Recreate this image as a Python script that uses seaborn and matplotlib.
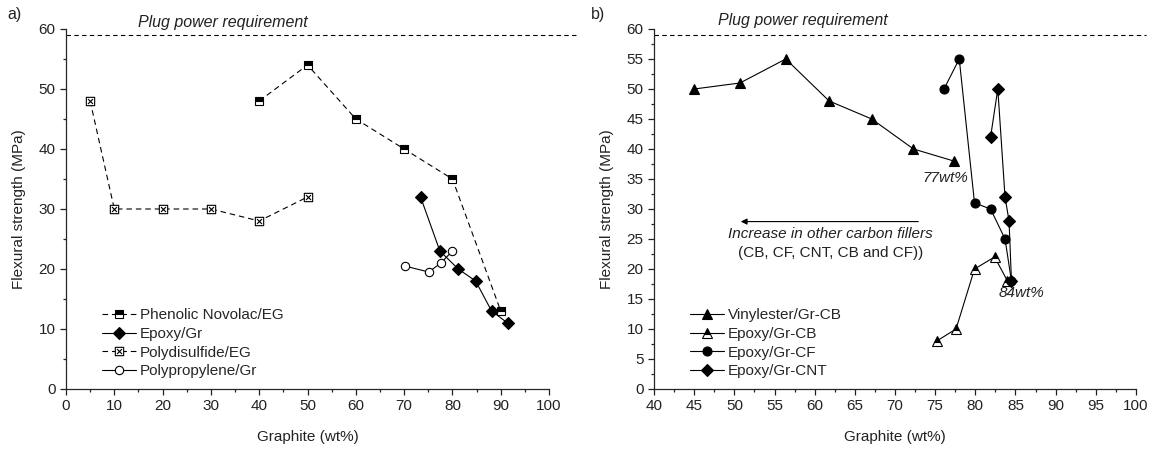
import numpy as np
import pandas as pd
import seaborn as sns
import matplotlib
matplotlib.use("Agg")
import matplotlib.pyplot as plt
from matplotlib.path import Path

# ---- panel a) data ----
phenolic_x = [40, 50, 60, 70, 80, 90]
phenolic_y = [48, 54, 45, 40, 35, 13]
epoxy_gr_x = [73.4, 77.4, 81.2, 84.8, 88.1, 91.4]
epoxy_gr_y = [32, 23, 20, 18, 13, 11]
polydis_x = [5, 10, 20, 30, 40, 50]
polydis_y = [48, 30, 30, 30, 28, 32]
polyprop_x = [70.1, 75.1, 77.6, 80.0]
polyprop_y = [20.5, 19.5, 21, 23]

# ---- panel b) data ----
vinyl_x = [45, 50.7, 56.4, 61.8, 67.1, 72.3, 77.3]
vinyl_y = [50, 51, 55, 48, 45, 40, 38]
ep_cb_x = [75.2, 77.6, 79.9, 82.4, 84.0]
ep_cb_y = [8, 10, 20, 22, 18]
ep_cf_x = [76.1, 78.0, 79.9, 81.9, 83.7, 84.5]
ep_cf_y = [50, 55, 31, 30, 25, 18]
ep_cnt_x = [81.9, 82.8, 83.7, 84.2, 84.5]
ep_cnt_y = [42, 50, 32, 28, 18]

plug_req = 59

sns.set_style('ticks')
plt.rcParams['font.family'] = ['Liberation Sans', 'DejaVu Sans']
plt.rcParams['axes.linewidth'] = 0.9
plt.rcParams['xtick.major.width'] = 0.9
plt.rcParams['ytick.major.width'] = 0.9
plt.rcParams['xtick.minor.width'] = 0.9
plt.rcParams['ytick.minor.width'] = 0.9

# square with a cross inside (for Polydisulfide/EG)
boxx = Path([(-1, -1), (1, -1), (1, 1), (-1, 1), (-1, -1),
             (-0.6, -0.6), (0.6, 0.6), (-0.6, 0.6), (0.6, -0.6)],
            [Path.MOVETO, Path.LINETO, Path.LINETO, Path.LINETO, Path.CLOSEPOLY,
             Path.MOVETO, Path.LINETO, Path.MOVETO, Path.LINETO])


def series(ax, x, y, label, dashed=False, **mk):
    df = pd.DataFrame({'x': x, 'y': y})
    ls = (0, (5, 3.5)) if dashed else '-'
    kws = dict(color='black', lw=0.8, markeredgecolor='black', markeredgewidth=0.8)
    kws.update(mk)
    sns.lineplot(data=df, x='x', y='y', ax=ax, sort=False, estimator=None,
                 linestyle=ls, label=label, **kws)


def style_axes(ax, xlim, xmaj, xmin, ymaj, ymin):
    ax.set_xlim(*xlim)
    ax.set_ylim(0, 60)
    ax.set_xticks(np.arange(xlim[0], xlim[1] + 0.1, xmaj))
    ax.set_xticks(np.arange(xlim[0], xlim[1] + 0.1, xmin), minor=True)
    ax.set_yticks(np.arange(0, 60.1, ymaj))
    ax.set_yticks(np.arange(0, 60.1, ymin), minor=True)
    ax.tick_params(which='major', length=4.5, pad=3, labelsize=11, colors='#222222')
    ax.tick_params(which='minor', length=2.5)
    for s in ['top', 'right']:
        ax.spines[s].set_visible(False)
    ax.set_xlabel('Graphite (wt%)', fontsize=11, labelpad=12, color='#222222')
    ax.set_ylabel('Flexural strength (MPa)', fontsize=11, labelpad=9, color='#222222')
    ax.grid(False)


fig = plt.figure(figsize=(11.64, 4.53), dpi=100)
ax1 = fig.add_axes([0.0567, 0.1413, 0.415, 0.7947])
ax2 = fig.add_axes([0.5619, 0.1413, 0.414, 0.7947])

# ---- panel a ----
series(ax1, phenolic_x, phenolic_y, 'Phenolic Novolac/EG', dashed=True,
       marker='s', markersize=5.5, fillstyle='top', markerfacecolor='black',
       markerfacecoloralt='white')
series(ax1, epoxy_gr_x, epoxy_gr_y, 'Epoxy/Gr',
       marker='D', markersize=6.5, markerfacecolor='black')
series(ax1, polydis_x, polydis_y, 'Polydisulfide/EG', dashed=True,
       marker=boxx, markersize=6, markerfacecolor='white')
series(ax1, polyprop_x, polyprop_y, 'Polypropylene/Gr',
       marker='o', markersize=6, markerfacecolor='white')
style_axes(ax1, (0, 100), 10, 5, 10, 5)

# ---- panel b ----
series(ax2, vinyl_x, vinyl_y, 'Vinylester/Gr-CB',
       marker='^', markersize=7.5, markerfacecolor='black')
series(ax2, ep_cb_x, ep_cb_y, 'Epoxy/Gr-CB',
       marker='^', markersize=7.5, fillstyle='top', markerfacecolor='black',
       markerfacecoloralt='white')
series(ax2, ep_cf_x, ep_cf_y, 'Epoxy/Gr-CF',
       marker='o', markersize=6.5, markerfacecolor='black')
series(ax2, ep_cnt_x, ep_cnt_y, 'Epoxy/Gr-CNT',
       marker='D', markersize=6, markerfacecolor='black')
style_axes(ax2, (40, 100), 5, 2.5, 5, 2.5)

# plug power requirement
ax1.plot([0, 106], [plug_req, plug_req], color='black', lw=0.8,
         linestyle=(0, (4, 3)), clip_on=False)
ax2.plot([40, 101.3], [plug_req, plug_req], color='black', lw=0.8,
         linestyle=(0, (4, 3)), clip_on=False)
ax1.text(15, 60.3, 'Plug power requirement', fontsize=11.5, style='italic',
         va='baseline', ha='left', color='#222222')
ax2.text(47.9, 60.6, 'Plug power requirement', fontsize=11.5, style='italic',
         va='baseline', ha='left', color='#222222')

# annotations panel b
ax2.text(76.3, 35.2, '77wt%', fontsize=11, style='italic', ha='center', va='center',
         color='#222222')
ax2.text(85.8, 16.0, '84wt%', fontsize=11, style='italic', ha='center', va='center',
         color='#222222')
ax2.annotate('', xy=(50.8, 27.9), xytext=(72.9, 27.9),
             arrowprops=dict(arrowstyle='-|>', color='black', lw=0.8,
                             mutation_scale=9, shrinkA=0, shrinkB=0))
ax2.text(62, 25.8, 'Increase in other carbon fillers', fontsize=11, style='italic',
         ha='center', va='center', color='#222222')
ax2.text(62, 22.6, '(CB, CF, CNT, CB and CF))', fontsize=11,
         ha='center', va='center', color='#222222')

# legends
for ax in (ax1, ax2):
    ax.legend(loc='lower left', bbox_to_anchor=(0.075, 0.03), frameon=False,
              fontsize=11, handlelength=2.2, handletextpad=0.25,
              labelspacing=0.3, borderaxespad=0, borderpad=0)

fig.text(0.006, 0.985, 'a)', fontsize=11.5, va='top', ha='left', color='#222222')
fig.text(0.508, 0.985, 'b)', fontsize=11.5, va='top', ha='left', color='#222222')

fig.savefig('out.png', dpi=100)
